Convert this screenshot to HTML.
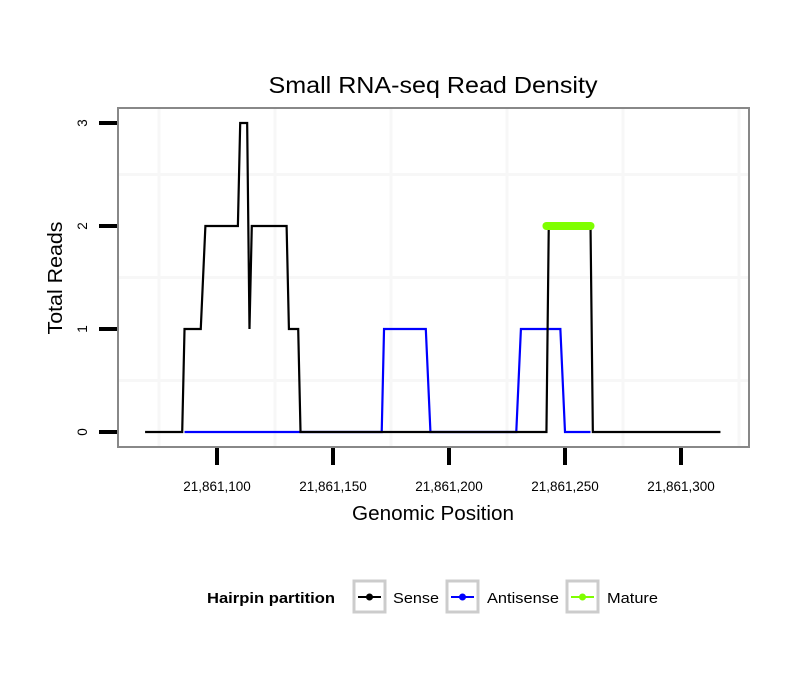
<!DOCTYPE html>
<html><head><meta charset="utf-8"><style>
html,body{margin:0;padding:0;background:#fff;width:810px;height:690px;overflow:hidden}
text{font-family:"Liberation Sans",Arial,sans-serif}
</style></head><body>
<svg id="chart" width="810" height="690" xmlns="http://www.w3.org/2000/svg">
<rect width="810" height="690" fill="#fff"/>
<text x="433" y="93" font-size="23.5" text-anchor="middle" fill="#000" textLength="329" lengthAdjust="spacingAndGlyphs">Small RNA-seq Read Density</text>
<g id="grid"></g>
<g id="series"></g>
<rect x="118" y="108" width="631" height="339" fill="none" stroke="#888" stroke-width="2"/>
<g id="axes"></g>
<text transform="translate(62,278) rotate(-90)" font-size="20" text-anchor="middle" fill="#000" textLength="113" lengthAdjust="spacingAndGlyphs">Total Reads</text>
<text x="433" y="520" font-size="20" text-anchor="middle" fill="#000" textLength="162" lengthAdjust="spacingAndGlyphs">Genomic Position</text>
<g>
<text x="207" y="603" font-size="15" font-weight="bold" fill="#000" textLength="128" lengthAdjust="spacingAndGlyphs">Hairpin partition</text>
<g>
<rect x="354" y="581" width="31" height="31" fill="#fff" stroke="#ccc" stroke-width="3"/>
<line x1="358" y1="597" x2="381" y2="597" stroke="#000" stroke-width="2"/><circle cx="369.5" cy="597" r="3.5" fill="#000"/>
<text x="393" y="603" font-size="15" fill="#000" textLength="46" lengthAdjust="spacingAndGlyphs">Sense</text></g>
<g>
<rect x="447" y="581" width="31" height="31" fill="#fff" stroke="#ccc" stroke-width="3"/>
<line x1="451" y1="597" x2="474" y2="597" stroke="#00f" stroke-width="2"/><circle cx="462.5" cy="597" r="3.5" fill="#00f"/>
<text x="487" y="603" font-size="15" fill="#000" textLength="72" lengthAdjust="spacingAndGlyphs">Antisense</text></g>
<g>
<rect x="567" y="581" width="31" height="31" fill="#fff" stroke="#ccc" stroke-width="3"/>
<line x1="571" y1="597" x2="594" y2="597" stroke="#7fff00" stroke-width="2"/><circle cx="582.5" cy="597" r="3.5" fill="#7fff00"/>
<text x="607" y="603" font-size="15" fill="#000" textLength="51" lengthAdjust="spacingAndGlyphs">Mature</text></g>
</g>
</svg>
<script>
// positions are offsets from 21,861,000
const xTicks = [100, 150, 200, 250, 300];
const xTickLabels = ["21,861,100", "21,861,150", "21,861,200", "21,861,250", "21,861,300"];
const yTicks = [0, 1, 2, 3];
const senseX = [69, 85, 86, 93, 95, 109, 110, 113, 114, 115, 130, 131, 135, 136, 242, 243, 261, 262, 317];
const senseY = [0, 0, 1, 1, 2, 2, 3, 3, 1, 2, 2, 1, 1, 0, 0, 2, 2, 0, 0];
const antiX = [86, 135, 171, 172, 190, 192, 229, 231, 248, 250, 261];
const antiY = [0, 0, 0, 1, 1, 0, 0, 1, 1, 0, 0];
const matureX = [242, 261];
const matureY = [2, 2];

const NS = "http://www.w3.org/2000/svg";
function xs(v){ return 217 + (v - 100) * 2.32; }
function ys(v){ return 432 - v * 103; }
function mk(tag, attrs, parent){
  const e = document.createElementNS(NS, tag);
  for (const k in attrs) e.setAttribute(k, attrs[k]);
  parent.appendChild(e);
  return e;
}
const grid = document.getElementById('grid');
const axes = document.getElementById('axes');
const series = document.getElementById('series');
for (let v = 75; v <= 325; v += 50) {
  const g = mk('line', {x1: xs(v), x2: xs(v), y1: 109, y2: 446, stroke: '#f7f7f7', 'stroke-width': 3}, grid);
  
  
}
for (let i = 0; i < yTicks.length - 1; i++) {
  const m = mk('line', {x1: 119, x2: 748, y1: ys(yTicks[i] + 0.5), y2: ys(yTicks[i] + 0.5), stroke: '#f7f7f7', 'stroke-width': 3}, grid);
  
  
}
for (let i = 0; i < xTicks.length; i++) {
  const t = mk('line', {x1: xs(xTicks[i]), x2: xs(xTicks[i]), y1: 448, y2: 465, stroke: '#000', 'stroke-width': 4}, axes);
  
  
  const l = mk('text', {x: xs(xTicks[i]), y: 491, 'font-size': 13.5, 'text-anchor': 'middle', fill: '#000'}, axes);
  l.textContent = xTickLabels[i];
  
  
}
for (let i = 0; i < yTicks.length; i++) {
  const t = mk('line', {x1: 99, x2: 117, y1: ys(yTicks[i]), y2: ys(yTicks[i]), stroke: '#000', 'stroke-width': 4}, axes);
  
  
  const l = mk('text', {transform: 'translate(87,' + ys(yTicks[i]) + ') rotate(-90)', 'font-size': 13.5, 'text-anchor': 'middle', fill: '#000'}, axes);
  l.textContent = String(yTicks[i]);
  
  
}
function pts(X, Y){ return X.map((x, i) => xs(x) + ',' + ys(Y[i])).join(' '); }
const pa = mk('polyline', {points: pts(antiX, antiY), fill: 'none', stroke: '#00f', 'stroke-width': 2.2}, series);


const ps = mk('polyline', {points: pts(senseX, senseY), fill: 'none', stroke: '#000', 'stroke-width': 2.2}, series);


const pm = mk('polyline', {points: pts(matureX, matureY), fill: 'none', stroke: '#7fff00', 'stroke-width': 8, 'stroke-linecap': 'round'}, series);


</script>
</body></html>
